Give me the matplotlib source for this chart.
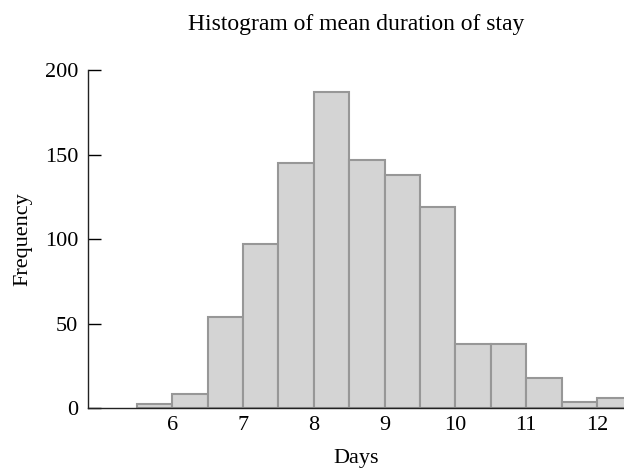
import matplotlib
matplotlib.use("Agg")
import matplotlib.pyplot as plt
import numpy as np

bin_edges = [5.5, 6.0, 6.5, 7.0, 7.5, 8.0, 8.5, 9.0, 9.5, 10.0, 10.5, 11.0, 11.5, 12.0, 12.5]
counts = [2.5, 8.5, 54, 97, 145, 187, 147, 138, 119, 38, 38, 18, 3.5, 6]
x_ticks = [6, 7, 8, 9, 10, 11, 12]
y_ticks = [0, 50, 100, 150, 200]

plt.rcParams['font.family'] = ['Liberation Serif', 'DejaVu Serif']

fig = plt.figure(figsize=(6.24, 4.68), dpi=100)
ax = fig.add_axes([0.141, 0.128, 0.859, 0.722])

ax.hist(bin_edges[:-1], bins=bin_edges, weights=counts,
        color='#d4d4d4', edgecolor='#979797', linewidth=1.5)

ax.set_xlim(4.81, 12.38)
ax.set_ylim(0, 200)
ax.set_xticks(x_ticks)
ax.set_yticks(y_ticks)
ax.tick_params(axis='x', length=0, labelsize=16, pad=6)
ax.tick_params(axis='y', direction='in', length=9, width=1, labelsize=16, pad=7)
for s in ['top', 'right']:
    ax.spines[s].set_visible(False)
for s in ['left', 'bottom']:
    ax.spines[s].set_linewidth(1.0)
    ax.spines[s].set_color('#222222')

ax.set_xlabel('Days', fontsize=16, labelpad=10)
ax.set_ylabel('Frequency', fontsize=16, labelpad=9)
ax.set_title('Histogram of mean duration of stay', fontsize=17, pad=29)

fig.savefig('out.png', dpi=100)
